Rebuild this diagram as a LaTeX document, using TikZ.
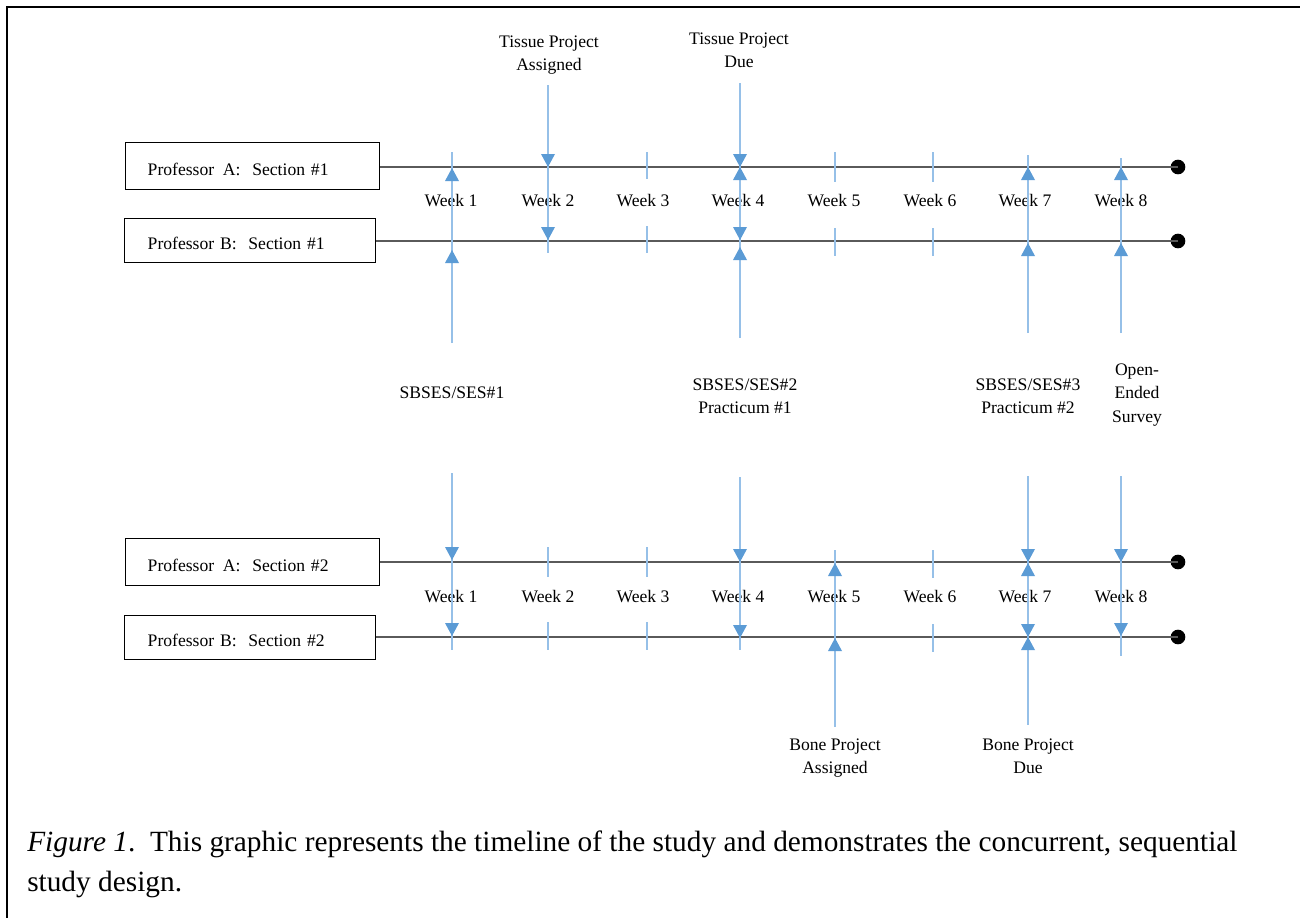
\documentclass[tikz,border=0pt]{standalone}
\usepackage{fontspec}
\setmainfont{Liberation Serif}
\definecolor{ablue}{RGB}{91,155,213}
\definecolor{lblue}{RGB}{150,192,232}
\definecolor{tlgray}{RGB}{90,90,90}
\begin{document}
\begin{tikzpicture}[x=0.75pt,y=-0.75pt,
  every node/.style={inner sep=0pt},
  lbl/.style={font=\fontsize{13.2}{17.5}\selectfont, align=center},
  profA/.style={draw, line width=1.1pt, anchor=north west, minimum width=190.5pt, minimum height=35.25pt,
    text width=157.5pt, inner xsep=16.5pt, align=left, font=\fontsize{13.2}{16}\selectfont},
  profB/.style={draw, line width=1.1pt, anchor=north west, minimum width=188.25pt, minimum height=33pt,
    text width=153.75pt, inner xsep=17.25pt, align=left, font=\fontsize{13.2}{16}\selectfont},
  tline/.style={draw=tlgray, line width=1.1pt},
  enddot/.style={circle, fill=black, minimum size=11pt},
  vline/.style={draw=lblue, line width=0.9pt},
  uptip/.pic={\fill[ablue] (0,0) -- (-7,13) -- (7,13) -- cycle;},
  dntip/.pic={\fill[ablue] (0,0) -- (-7,-13) -- (7,-13) -- cycle;},
  frame/.style={draw=black, line width=1.5pt}
]
\useasboundingbox (0,0) rectangle (1300,918);
% frame
\coordinate (fTR) at (1300,7);
\coordinate (fTL) at (7,7);
\coordinate (fBL) at (7,918);
\draw[frame] (fTR) -- (fTL) -- (fBL);

% boxes
\node[profA] (pa1) at (125,142) {\rule{0pt}{14pt}Professor\, A:\ \ Section \#1};
\node[profB] (pb1) at (124,218) {\rule{0pt}{14pt}Professor B:\ \ Section \#1};
\node[profA] (pa2) at (125,538) {\rule{0pt}{14pt}Professor\, A:\ \ Section \#2};
\node[profB] (pb2) at (124,615) {\rule{0pt}{14pt}Professor B:\ \ Section \#2};

% end dots
\node[enddot] (d1) at (1178,167) {};
\node[enddot] (d2) at (1178,241) {};
\node[enddot] (d3) at (1178,562) {};
\node[enddot] (d4) at (1178,637) {};

% timelines
\draw[tline] (pa1.east |- d1) -- (d1.center);
\draw[tline] (pb1.east |- d2) -- (d2.center);
\draw[tline] (pa2.east |- d3) -- (d3.center);
\draw[tline] (pb2.east |- d4) -- (d4.center);

% week labels
\foreach \x/\n in {451/1,548/2,643/3,738/4,834/5,930/6,1025/7,1121/8}{
  \node[lbl] (wt\n) at (\x,201) {Week \n};
  \node[lbl] (wb\n) at (\x,597) {Week \n};
}

% event labels
\node[lbl] (tpa) at (549,55) {Tissue Project\\Assigned};
\node[lbl] (tpd) at (739,50) {Tissue Project\\Due};
\node[lbl] (s1) at (452,393) {SBSES/SES\#1};
\node[lbl] (s2) at (745,396) {SBSES/SES\#2\\Practicum \#1};
\node[lbl] (s3) at (1028,396) {SBSES/SES\#3\\Practicum \#2};
\node[lbl] (oes) at (1137,395) {Open-\\Ended\\Survey};
\node[lbl] (bpa) at (835,758) {Bone Project\\Assigned};
\node[lbl] (bpd) at (1028,756.5) {Bone Project\\Due};

% ---------- upper section ----------
% week 1
\coordinate (u1t) at (452,152); \coordinate (u1b) at (452,343);
\draw[vline] (u1b) -- (u1t);
\pic at (452,168) {uptip}; \pic at (452,250) {uptip};
% week 2
\coordinate (u2t) at (548,85); \coordinate (u2b) at (548,253);
\draw[vline] (u2t) -- (u2b);
\pic at (548,167) {dntip}; \pic at (548,240) {dntip};
% week 3
\draw[vline] (647,152) -- (647,179);
\draw[vline] (647,226) -- (647,253);
% week 4
\coordinate (u4t) at (740,83); \coordinate (u4b) at (740,338);
\draw[vline] (u4t) -- (u4b);
\pic at (740,167) {dntip}; \pic at (740,167) {uptip};
\pic at (740,240) {dntip}; \pic at (740,247) {uptip};
% week 5
\draw[vline] (835,152) -- (835,182);
\draw[vline] (835,228) -- (835,256);
% week 6
\draw[vline] (933,152) -- (933,182);
\draw[vline] (933,228) -- (933,256);
% week 7
\coordinate (u7t) at (1028,155); \coordinate (u7b) at (1028,333);
\draw[vline] (u7b) -- (u7t);
\pic at (1028,167) {uptip}; \pic at (1028,243) {uptip};
% week 8
\coordinate (u8t) at (1121,158); \coordinate (u8b) at (1121,333);
\draw[vline] (u8b) -- (u8t);
\pic at (1121,167) {uptip}; \pic at (1121,243) {uptip};

% ---------- lower section ----------
% week 1
\coordinate (l1t) at (452,473); \coordinate (l1b) at (452,650);
\draw[vline] (l1t) -- (l1b);
\pic at (452,560) {dntip}; \pic at (452,636) {dntip};
% week 2
\draw[vline] (548,547) -- (548,577);
\draw[vline] (548,622) -- (548,650);
% week 3
\draw[vline] (647,547) -- (647,577);
\draw[vline] (647,622) -- (647,650);
% week 4
\coordinate (l4t) at (740,477); \coordinate (l4b) at (740,650);
\draw[vline] (l4t) -- (l4b);
\pic at (740,562) {dntip}; \pic at (740,638) {dntip};
% week 5
\coordinate (l5t) at (835,550); \coordinate (l5b) at (835,727);
\draw[vline] (l5b) -- (l5t);
\pic at (835,563) {uptip}; \pic at (835,638) {uptip};
% week 6
\draw[vline] (933,550) -- (933,578);
\draw[vline] (933,624) -- (933,652);
% week 7
\coordinate (l7t) at (1028,476); \coordinate (l7b) at (1028,725);
\draw[vline] (l7t) -- (l7b);
\pic at (1028,562) {dntip}; \pic at (1028,563) {uptip};
\pic at (1028,637) {dntip}; \pic at (1028,637) {uptip};
% week 8
\coordinate (l8t) at (1121,476); \coordinate (l8b) at (1121,656);
\draw[vline] (l8t) -- (l8b);
\pic at (1121,562) {dntip}; \pic at (1121,636) {dntip};

% caption
\node[anchor=base west, align=left, font=\fontsize{22}{30}\selectfont] (cap) at (27,891)
  {\textit{Figure 1}.\ \ This graphic represents the timeline of the study and demonstrates the concurrent, sequential\\study design.};
\end{tikzpicture}
\end{document}
